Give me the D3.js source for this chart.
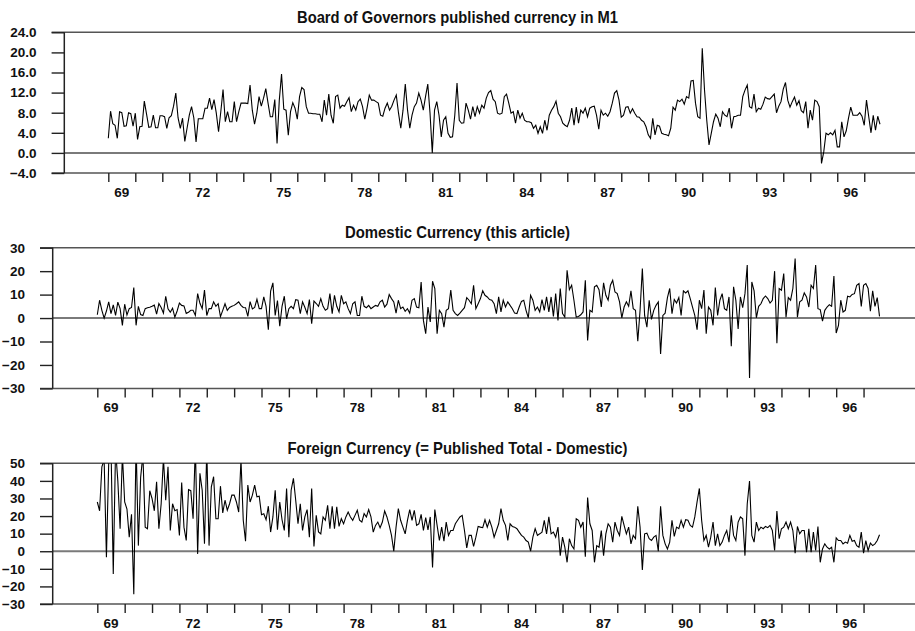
<!DOCTYPE html>
<html>
<head>
<meta charset="utf-8">
<script src="https://cdn.jsdelivr.net/npm/d3@7"></script>
<style>
  html, body { margin: 0; padding: 0; background: #fff; }
  svg { display: block; }
  text { font-family: "Liberation Sans", Arial, sans-serif; font-weight: bold; fill: #111; }
</style>
</head>
<body>
<div id="chart"></div>
<script>
// monthly growth rates, Jan 1969 onward
const startYear = 1969;

const publishedM1 = [
  2.9, 8.3, 5.8, 5.5, 2.9, 8.2, 8.0, 5.3, 5.4, 8.0, 7.8, 5.3,
  7.9, 2.7, 5.2, 5.3, 10.3, 7.7, 5.1, 5.2, 7.5, 5.0, 5.0, 7.4,
  7.4, 7.2, 4.9, 7.0, 7.4, 9.3, 11.9, 7.0, 4.9, 6.9, 2.3, 4.9,
  7.5, 9.2, 7.0, 2.2, 6.8, 6.8, 6.8, 8.9, 8.9, 10.9, 8.6, 10.6,
  7.9, 4.2, 8.2, 12.6, 6.2, 8.2, 6.2, 6.2, 10.2, 6.2, 8.2, 9.9,
  9.9, 9.9, 9.8, 13.5, 8.5, 5.7, 7.9, 11.2, 9.3, 10.9, 12.8, 9.9,
  7.2, 7.2, 10.6, 1.9, 10.5, 15.7, 8.7, 8.5, 3.5, 8.2, 10.0, 8.9,
  6.7, 11.2, 13.0, 12.6, 9.2, 7.9, 7.9, 7.8, 7.8, 7.7, 7.7, 6.2,
  10.5, 7.5, 11.7, 7.5, 5.9, 11.2, 11.5, 8.9, 9.5, 9.3, 10.2, 11.0,
  8.2, 9.5, 8.5, 10.2, 10.7, 9.2, 6.7, 8.9, 11.5, 10.5, 10.5, 10.2,
  9.9, 7.5, 7.3, 8.9, 9.9, 8.5, 9.3, 10.5, 11.5, 7.9, 4.9, 8.5,
  13.7, 8.5, 4.9, 7.5, 9.2, 9.9, 11.9, 10.5, 8.5, 11.2, 13.7, 7.9,
  0.0, 8.5, 10.2, 7.5, 3.2, 6.5, 7.2, 3.9, 3.1, 3.2, 7.5, 13.9,
  6.5, 5.9, 6.0, 9.9, 8.5, 6.7, 9.2, 7.2, 9.2, 7.9, 9.5, 8.9,
  10.9, 12.0, 12.4, 10.7, 10.2, 7.9, 7.7, 7.9, 11.2, 11.7, 9.9, 7.9,
  8.2, 5.9, 8.5, 6.9, 7.9, 6.5, 6.2, 6.2, 6.0, 4.9, 5.5, 3.9,
  5.2, 3.9, 6.5, 4.5, 7.5, 8.5, 9.2, 10.3, 7.9, 7.2, 5.9, 5.5,
  5.2, 6.5, 8.9, 5.5, 9.1, 5.9, 8.5, 7.9, 8.9, 7.2, 8.9, 9.2,
  9.3, 7.5, 4.7, 8.5, 7.5, 7.9, 7.3, 8.2, 9.9, 11.9, 12.4, 10.5,
  7.1, 7.5, 9.1, 9.2, 7.9, 8.8, 7.9, 7.2, 7.1, 6.5, 6.2, 5.2,
  3.6, 2.9, 6.9, 3.6, 5.5, 5.3, 3.9, 3.7, 3.6, 3.4, 4.9, 9.1,
  8.5, 10.5, 10.2, 10.7, 9.7, 11.2, 10.9, 14.3, 14.4, 9.9, 7.2, 6.9,
  20.8, 12.5, 6.5, 1.6, 3.9, 6.2, 7.7, 6.9, 5.2, 8.2, 7.5, 7.2,
  8.9, 4.9, 7.2, 7.3, 7.5, 7.5, 11.2, 12.5, 13.5, 9.2, 8.9, 11.7,
  8.2, 8.9, 8.7, 9.7, 11.1, 10.8, 10.7, 11.2, 11.7, 8.0, 9.3, 10.2,
  12.7, 14.0, 10.5, 9.1, 10.2, 11.1, 9.5, 10.4, 8.4, 8.0, 10.2, 4.9,
  8.5, 6.5, 10.5, 10.2, 9.2, -2.1, 0.2, 3.9, 3.6, 4.0, 3.6, 4.5,
  1.2, 1.2, 6.2, 3.2, 4.4, 6.9, 9.1, 7.5, 7.5, 7.5, 8.0, 7.3,
  5.5, 10.5, 7.2, 4.0, 7.5, 4.5, 7.3, 5.7
];

const domestic = [
  1.4, 7.6, 3.3, 0.0, 3.0, 6.9, 1.9, 5.6, 1.1, 6.8, 4.0, -3.1,
  5.9, 1.3, 4.0, 4.5, 13.0, -3.1, 5.0, 1.5, 1.1, 4.0, 4.4, 4.6,
  5.0, 5.5, 1.7, 6.2, 4.5, 2.1, 9.3, 3.9, 2.5, 4.2, 0.4, 3.0,
  6.4, 5.4, 5.2, 2.0, 2.5, 3.3, 3.3, 1.1, 10.4, 6.3, 4.0, 11.9,
  1.1, 4.0, 4.0, 6.9, 5.0, 6.1, 0.6, 3.3, 6.1, 3.3, 4.5, 5.0,
  5.4, 6.1, 6.9, 5.4, 4.5, 4.4, 0.7, 7.0, 3.9, 4.5, 8.0, 4.0,
  4.0, 9.0, 5.0, -5.0, 11.5, 15.0, 1.1, 7.5, -3.5, 5.0, 9.3, -0.3,
  4.0, 5.0, 4.0, 7.8, 7.6, 1.9, 6.9, 4.6, 1.9, 7.9, -2.4, 7.3,
  6.2, 5.0, 8.3, 5.0, 3.3, 4.0, 10.4, 1.9, 9.7, 5.0, 2.6, 9.7,
  6.1, 6.9, 4.0, 1.9, 6.1, 6.9, 1.1, 1.1, 9.3, 5.0, 4.4, 5.4,
  4.0, 4.7, 5.4, 5.0, 6.9, 7.6, 4.7, 5.9, 10.0, 8.3, 6.9, 2.1,
  7.6, 4.0, 4.7, 2.9, 4.0, 2.1, 7.6, 8.3, 4.7, 4.4, 15.4, -1.0,
  -6.7, 4.7, -1.7, 15.7, 12.6, -6.7, 3.3, 1.9, -3.9, 3.3, 4.0, 11.9,
  3.3, 1.9, 1.1, 2.1, 3.3, 4.4, 8.7, 7.6, 6.1, 14.0, 4.0, 6.1,
  8.3, 11.6, 9.7, 9.0, 7.9, 7.6, 6.1, 1.9, 9.0, 2.6, 7.6, 4.7,
  6.9, 5.4, 4.0, 2.1, 1.9, 4.7, 7.1, 7.6, 3.3, 0.1, 9.7, 7.6,
  3.3, 4.7, 2.6, 7.9, 3.3, 9.0, 2.6, 9.0, 0.7, 10.4, -1.0, 12.6,
  1.9, 0.4, 20.4, 12.1, 14.0, 7.6, 0.4, 0.7, 1.4, 2.6, 16.1, -9.6,
  3.3, 2.6, 13.3, 14.0, 12.1, 4.7, 15.0, 9.7, 7.6, 14.0, 16.1, 11.1,
  10.4, 6.9, 0.1, 4.7, 6.9, 5.0, 11.6, 4.0, 3.3, -9.9, 3.3, 21.1,
  1.1, -3.9, 7.6, -0.6, 3.3, 5.4, 6.9, -15.3, 1.1, 2.1, 8.7, 12.6,
  1.9, 7.9, 6.4, 8.7, 1.1, 11.6, 10.7, 11.6, 8.3, 4.7, 1.1, -5.0,
  7.6, 4.0, 11.9, -6.7, 4.7, 3.3, -3.1, 13.0, 1.1, 7.6, 10.4, 4.0,
  3.3, 9.0, -12.0, 13.3, 7.6, -4.6, 9.0, 4.4, 10.4, 22.6, -25.6, 15.4,
  11.6, 0.1, 5.0, 6.1, 8.3, 9.4, 8.3, 6.4, 7.6, 20.0, -10.7, 12.6,
  11.9, 19.0, 0.4, 8.7, 7.6, 12.6, 25.4, 0.4, 6.9, 7.6, 10.7, 9.0,
  4.7, 14.0, 12.6, 22.6, 4.0, 3.6, -1.3, 3.3, 4.7, 5.7, 5.0, 17.9,
  -6.4, -3.1, 7.6, 2.6, 3.3, 9.3, 9.0, 10.1, 10.4, 14.0, 14.7, 5.0,
  14.0, 14.7, 12.6, 2.9, 11.6, 5.0, 8.7, 0.7
];

const foreign = [
  28, 23, 48, 52, -3.4, 50, 60, -13, 58, 40, 12.8, 55,
  28, 24, 8, 21, -24.4, 62, 3.2, 42, 55, 13.7, 12.8, 34.4,
  30, 23, 39.5, 12.8, 27, 53, 29, 48, 11.8, 27, 23, 23.7,
  9, 39, 13.7, 6.1, 35, 34.4, 18.5, 60, -1.5, 44.3, 34.7, 4.2,
  58, 3.2, 36.6, 42.4, 18.5, 18.5, 37, 21.8, 29, 23.3, 27, 31.9,
  31.9, 28, 22.3, 52, 17.6, 5.7, 37.6, 28, 31.9, 37.6, 30.9, 31.3,
  20.8, 21.3, 17.9, 25.6, 10.9, 19.5, 34.7, 12.2, 28, 17.9, 11.8, 35.7,
  8, 34.7, 41.4, 29, 15.6, 27, 11.8, 19.5, 23.7, 8, 35.7, 2.7,
  20.4, 11, 9.9, 19.5, 17.6, 26.1, 12.8, 25.6, 12.8, 25.2, 14.1, 18.5,
  15.6, 19.5, 22.3, 19.5, 17.6, 20.4, 23.3, 17.6, 16.6, 21.4, 19.5, 23.7,
  19.5, 10.9, 14.7, 16.6, 13.4, 16.6, 22.9, 19.5, 14.7, 9.0, 0, 13.7,
  24.2, 17.6, 13.7, 9.9, 17.6, 23.7, 17.6, 23.3, 14.7, 15.6, 21.0, 11.8,
  19.1, 12.2, 19.5, -9.2, 23.7, 14.7, 6.1, 13.7, 5.7, 16.6, 9.0, 11.8,
  11.8, 15.6, 17.6, 19.5, 20.4, 11.8, 1.9, 9.0, 9.0, 2.7, 8.0, 14.1,
  13.7, 13.4, 17.9, 13.7, 17.6, 13.7, 8.0, 11.8, 15.6, 24.2, 17.6, 14.7,
  6.1, 15.6, 14.1, 13.7, 12.8, 10.9, 9.0, 8.0, 6.1, 5.2, 0, 8.0,
  12.8, 9.0, 9.9, 10.9, 17.6, 9.9, 19.5, 9.9, 10.9, 8.0, 13.7, -2.5,
  8.0, 2.3, -6.3, 7.1, 3.2, 1.3, 18.5, 17.6, 13.7, 16.6, -3.1, 30.5,
  15.6, 11.8, -6.3, 3.2, 2.3, 11.8, -2.5, 9.9, 15.6, 13.7, 5.2, 16.6,
  11.8, 9.0, 19.8, 14.7, 9.9, 13.7, 4.2, 9.0, 7.1, 25.6, 13.7, -10.7,
  9.9, 10.3, 7.1, 6.1, 8.0, 9.0, 0, 25.6, 9.0, 4.2, 1.3, 5.2,
  17.6, 8.4, 13.7, 12.8, 17.6, 13.7, 17.9, 17.6, 14.7, 13.7, 19.5, 28.1,
  35.7, 17.6, 6.1, 9.0, 2.3, 8.0, 16.6, 3.2, 9.9, 3.2, 5.2, 9.0,
  11.8, 5.2, 20.4, 9.0, 6.1, 16.6, 19.5, 18.5, -2.5, 27, 39.9, 9.0,
  5.2, 16.6, 11.8, 13.7, 12.8, 14.1, 13.4, 14.7, 11.8, 0.4, 22.9, 7.1,
  12.8, 13.7, 16.6, 12.8, 16.6, 11.8, -1.1, 14.1, 9.9, 11.8, 11.8, -0.6,
  12.8, -0.6, 10.9, 0.4, 14.1, -6.3, 1.3, 4.2, 2.3, 1.3, 2.3, -6.3,
  7.6, 6.1, 6.1, 4.2, 5.2, 4.6, 9.0, 5.7, 6.1, 3.2, 2.3, 10.9,
  -1.1, 6.1, 0.4, 4.6, 3.2, 4.2, 6.1, 9.4
];

const titles = [
  "Board of Governors published currency in M1",
  "Domestic Currency (this article)",
  "Foreign Currency (= Published Total - Domestic)"
];
const yDomains = [[-4, 24], [-30, 30], [-30, 50]];
const yTicks = [
  [-4, 0, 4, 8, 12, 16, 20, 24],
  [-30, -20, -10, 0, 10, 20, 30],
  [-30, -20, -10, 0, 10, 20, 30, 40, 50]
];
const yearTicks = d3.range(1969, 1998);
const yearLabels = [1969, 1972, 1975, 1978, 1981, 1984, 1987, 1990, 1993, 1996];
const xDomain = [1967.37, 1998.88];

const W = 915, H = 631;
// panel boxes
const PANELS = [
  { top: 32.3, left: 64.3, titleW: 321, fmt: d3.format(".1f") },
  { top: 247.7, left: 52.7, titleW: 225, fmt: d3.format("d") },
  { top: 463.3, left: 52.7, titleW: 340, fmt: d3.format("d") }
];
const PANEL_H = 140.7;
const RIGHT = W;

const series = [publishedM1, domestic, foreign];

const svg = d3.select("#chart").append("svg")
  .attr("width", W).attr("height", H);

PANELS.forEach((p, k) => {
  const bottom = p.top + PANEL_H;
  const x = d3.scaleLinear().domain(xDomain).range([p.left, RIGHT]);
  const y = d3.scaleLinear().domain(yDomains[k]).range([bottom, p.top]);
  const g = svg.append("g");

  // title
  g.append("text")
    .attr("x", W / 2)
    .attr("y", p.top - 9.5)
    .attr("text-anchor", "middle")
    .attr("font-size", 16.5)
    .attr("textLength", p.titleW)
    .attr("lengthAdjust", "spacingAndGlyphs")
    .text(titles[k]);

  // top and bottom frame lines
  [p.top, bottom].forEach(yy => {
    g.append("line")
      .attr("x1", p.left - 12.7).attr("x2", RIGHT)
      .attr("y1", yy).attr("y2", yy)
      .attr("stroke", "#555").attr("stroke-width", 1.5);
  });

  // zero line
  g.append("line")
    .attr("x1", p.left).attr("x2", RIGHT)
    .attr("y1", y(0)).attr("y2", y(0))
    .attr("stroke", "#7a7a7a").attr("stroke-width", 2);

  // y axis
  const ya = g.append("g")
    .attr("transform", `translate(${p.left},0)`)
    .call(d3.axisLeft(y).tickValues(yTicks[k]).tickFormat(p.fmt)
      .tickSize(12.7).tickPadding(15));
  ya.select(".domain").remove();
  ya.selectAll(".tick line").attr("stroke", "#222").attr("stroke-width", 1.4);
  ya.selectAll(".tick text").attr("font-size", 13.5).attr("fill", "#111");
  g.append("line")
    .attr("x1", p.left).attr("x2", p.left)
    .attr("y1", p.top).attr("y2", bottom)
    .attr("stroke", "#222").attr("stroke-width", 1.5);

  // x axis: yearly ticks, labels centred in the year
  const xa = g.append("g")
    .attr("transform", `translate(0,${bottom})`)
    .call(d3.axisBottom(x).tickValues(yearTicks).tickFormat("").tickSize(9));
  xa.select(".domain").remove();
  xa.selectAll(".tick line").attr("stroke", "#222").attr("stroke-width", 1.4);

  g.selectAll(".yr")
    .data(yearLabels)
    .enter().append("text")
    .attr("x", d => x(d + 0.5))
    .attr("y", bottom + 24)
    .attr("text-anchor", "middle")
    .attr("font-size", 13.5)
    .text(d => String(d % 100).padStart(2, "0"));

  // clip + data line
  const clipId = "clip" + k;
  svg.append("clipPath").attr("id", clipId)
    .append("rect")
    .attr("x", p.left).attr("y", p.top)
    .attr("width", RIGHT - p.left).attr("height", PANEL_H);

  const line = d3.line()
    .x((d, i) => x(startYear + i / 12))
    .y(d => y(d));

  g.append("path")
    .datum(series[k])
    .attr("clip-path", `url(#${clipId})`)
    .attr("fill", "none")
    .attr("stroke", "#000")
    .attr("stroke-width", 1.1)
    .attr("d", line);
});
</script>
</body>
</html>
